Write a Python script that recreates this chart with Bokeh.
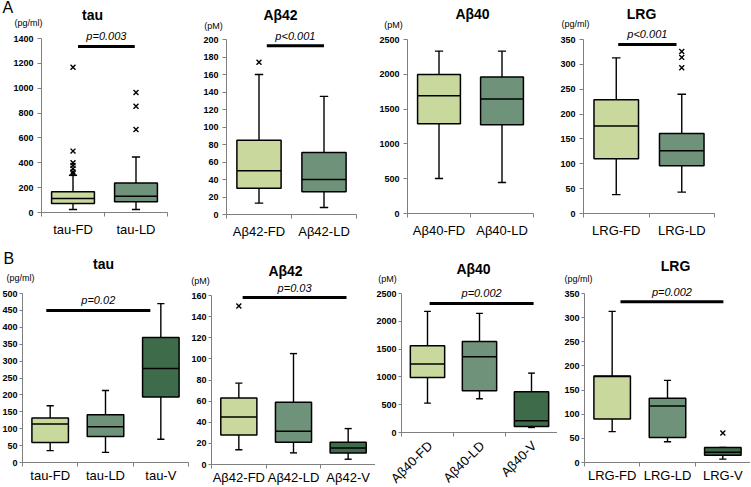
import numpy as np
from math import pi
from bokeh.plotting import figure
from bokeh.models import ColumnDataSource, Range1d, FixedTicker, Label
from bokeh.layouts import row, column
from bokeh.embed import file_html
from bokeh.resources import INLINE

FONT = "Liberation Sans"
COLORS = ["#c9d89d", "#6f937a", "#3e6c4a"]
AXIS_COL = "#7f7f7f"

# ---------------- data: panel A (FD vs LD) ----------------
tauA_cats = ["tau-FD", "tau-LD"]
tauA_low = [24, 24]
tauA_q1 = [72, 86]
tauA_med = [112, 131]
tauA_q3 = [166, 238]
tauA_high = [300, 446]
tauA_out_grp = [0, 0, 0, 0, 0, 0, 0, 1, 1, 1]
tauA_out_val = [1168, 494, 401, 379, 352, 326, 313, 965, 855, 668]
tauA_p = "p=0.003"
tauA_bar = [0.08, 0.98, 1336]

ab42A_cats = ["Aβ42-FD", "Aβ42-LD"]
ab42A_low = [13, 8]
ab42A_q1 = [30, 26]
ab42A_med = [50, 40]
ab42A_q3 = [85, 71]
ab42A_high = [160, 135]
ab42A_out_grp = [0]
ab42A_out_val = [174]
ab42A_p = "p<0.001"
ab42A_bar = [0.12, 1.0, 193]

ab40A_cats = ["Aβ40-FD", "Aβ40-LD"]
ab40A_low = [502, 445]
ab40A_q1 = [1291, 1276]
ab40A_med = [1692, 1644]
ab40A_q3 = [1998, 1960]
ab40A_high = [2333, 2333]
ab40A_out_grp = []
ab40A_out_val = []

lrgA_cats = ["LRG-FD", "LRG-LD"]
lrgA_low = [38, 43]
lrgA_q1 = [110, 96]
lrgA_med = [176, 126]
lrgA_q3 = [229, 161]
lrgA_high = [313, 240]
lrgA_out_grp = [1, 1, 1]
lrgA_out_val = [326, 314, 293]
lrgA_p = "p<0.001"
lrgA_bar = [0.03, 0.92, 340]

# ---------------- data: panel B (FD vs LD vs V) ----------------
tauB_cats = ["tau-FD", "tau-LD", "tau-V"]
tauB_low = [35, 30, 69]
tauB_q1 = [59, 77, 194]
tauB_med = [114, 106, 278]
tauB_q3 = [132, 141, 370]
tauB_high = [168, 213, 470]
tauB_out_grp = []
tauB_out_val = []
tauB_p = "p=0.02"
tauB_bar = [-0.07, 1.81, 450]

ab42B_cats = ["Aβ42-FD", "Aβ42-LD", "Aβ42-V"]
ab42B_low = [14, 11, 5]
ab42B_q1 = [28, 21, 11]
ab42B_med = [45, 31.5, 15.7]
ab42B_q3 = [63, 59, 21]
ab42B_high = [77, 105, 34]
ab42B_out_grp = [0]
ab42B_out_val = [150]
ab42B_p = "p=0.03"
ab42B_bar = [0.07, 1.97, 158]

ab40B_cats = ["Aβ40-FD", "Aβ40-LD", "Aβ40-V"]
ab40B_low = [528, 606, 90]
ab40B_q1 = [990, 750, 108]
ab40B_med = [1230, 1362, 210]
ab40B_q3 = [1559, 1638, 732]
ab40B_high = [2178, 2142, 1068]
ab40B_out_grp = []
ab40B_out_val = []
ab40B_p = "p=0.002"
ab40B_bar = [0.04, 2.04, 2322]

lrgB_cats = ["LRG-FD", "LRG-LD", "LRG-V"]
lrgB_low = [64, 43, 7]
lrgB_q1 = [90, 52, 15]
lrgB_med = [178, 117, 21]
lrgB_q3 = [179, 133, 31]
lrgB_high = [313, 170, 31]
lrgB_out_grp = [2]
lrgB_out_val = [61]
lrgB_p = "p=0.002"
lrgB_bar = [0.15, 2.01, 333]


def make_panel(cats, low, q1, med, q3, high, out_grp, out_val, ymax, ystep,
               canvas, frame, title, title_xy, unit, unit_xy,
               pval=None, bar=None, rotate=False, box_w=0.68, cap_w=0.13,
               standoff=5, ytick=4, ystandoff=4, letter=None, letter_xy=None,
               rot_y=443):
    """canvas = (x, y, w, h) on the page; frame = (left, top, right, bottom)
    page position of the axes box."""
    n = len(cats)
    fx, fy, w, h = canvas
    L, T, R, B = frame
    sx = (R - L) / n
    sy = (B - T) / ymax
    x_rng = Range1d(-0.5 - (L - fx) / sx, n - 0.5 + (fx + w - R) / sx)
    y_rng = Range1d(-(fy + h - B) / sy, ymax + (T - fy) / sy)

    p = figure(width=w, height=h, x_range=x_rng, y_range=y_rng,
               output_backend="svg", toolbar_location=None, min_border=0)
    p.xgrid.visible = False
    p.ygrid.visible = False
    p.outline_line_color = None
    p.background_fill_color = "white"
    p.border_fill_color = "white"

    def to_screen(px, py):
        return px - fx, (fy + h) - py

    ya = p.yaxis[0]
    ya.fixed_location = -0.5
    ya.bounds = (0, ymax)
    ya.ticker = FixedTicker(ticks=list(range(0, ymax + 1, ystep)))
    ya.major_label_text_font = FONT
    ya.major_label_text_font_size = "9px"
    ya.major_label_text_font_style = "bold"
    ya.major_label_text_color = "black"
    ya.axis_line_color = AXIS_COL
    ya.major_tick_line_color = AXIS_COL
    ya.major_tick_out = ytick
    ya.major_tick_in = 0
    ya.minor_tick_line_color = None
    ya.major_label_standoff = ystandoff

    xa = p.xaxis[0]
    xa.fixed_location = 0
    xa.bounds = (-0.5, n - 0.5)
    xs = list(range(n))
    xa.ticker = FixedTicker(ticks=[] if rotate else xs,
                            minor_ticks=[i - 0.5 for i in range(n + 1)])
    xa.major_label_overrides = {i: c for i, c in enumerate(cats)}
    xa.major_tick_line_color = None
    xa.major_tick_out = 0
    xa.major_tick_in = 0
    xa.minor_tick_line_color = AXIS_COL
    xa.minor_tick_out = 4
    xa.minor_tick_in = 0
    xa.axis_line_color = AXIS_COL
    xa.major_label_text_font = FONT
    xa.major_label_text_font_size = "13px"
    xa.major_label_text_color = "black"
    xa.major_label_standoff = standoff

    x = np.arange(n, dtype=float)
    src = ColumnDataSource(dict(
        x=x, low=low, q1=q1, med=med, q3=q3, high=high, color=COLORS[:n],
        cl=x - cap_w / 2, cr=x + cap_w / 2, bl=x - box_w / 2, br=x + box_w / 2))
    wk = dict(line_color="black", line_width=1.4)
    p.segment(x0="x", y0="q3", x1="x", y1="high", source=src, **wk)
    p.segment(x0="x", y0="low", x1="x", y1="q1", source=src, **wk)
    p.segment(x0="cl", y0="high", x1="cr", y1="high", source=src, **wk)
    p.segment(x0="cl", y0="low", x1="cr", y1="low", source=src, **wk)
    p.vbar(x="x", width=box_w, bottom="q1", top="q3", fill_color="color",
           line_color="black", line_width=1.5, source=src)
    p.segment(x0="bl", y0="med", x1="br", y1="med", source=src,
              line_color="black", line_width=1.5)
    if out_val:
        p.scatter(x=out_grp, y=out_val, marker="x", size=7,
                  line_color="black", line_width=1.4)

    def add_text(text, px, py, size, style="normal", align="center",
                 baseline="middle"):
        sxp, syp = to_screen(px, py)
        p.add_layout(Label(x=sxp, y=syp, x_units="screen", y_units="screen",
                           text=text, text_font=FONT,
                           text_font_size=f"{size}px", text_font_style=style,
                           text_align=align, text_baseline=baseline,
                           text_color="black"))

    if bar is not None:
        x0, x1, yb = bar
        p.segment(x0=[x0], y0=[yb], x1=[x1], y1=[yb], line_color="black",
                  line_width=3)
        bar_page_y = B - yb * sy
        p.add_layout(Label(x=(x0 + x1) / 2, x_units="data",
                           y=(fy + h) - (bar_page_y - 10), y_units="screen",
                           text=pval, text_font=FONT, text_font_size="11px",
                           text_font_style="italic", text_align="center",
                           text_baseline="middle", text_color="black"))

    if rotate:
        _, rys = to_screen(0, rot_y)
        for i, c in enumerate(cats):
            p.add_layout(Label(x=i + 0.05, x_units="data", y=rys,
                               y_units="screen", angle=pi / 4, text=c,
                               text_font=FONT, text_font_size="13px",
                               text_align="right", text_baseline="middle",
                               text_color="black"))

    add_text(title, title_xy[0], title_xy[1], 14, style="bold")
    add_text(unit, unit_xy[0], unit_xy[1], 9)
    if letter:
        add_text(letter, letter_xy[0], letter_xy[1], 16, align="left",
                 baseline="middle")
    return p


a1 = make_panel(tauA_cats, tauA_low, tauA_q1, tauA_med, tauA_q3, tauA_high,
                tauA_out_grp, tauA_out_val, 1400, 200,
                (0, 0, 190, 240), (41, 38, 167, 212),
                "tau", (92, 14), "(pg/ml)", (28, 22), tauA_p, tauA_bar,
                letter="A", letter_xy=(2, 7))
a2 = make_panel(ab42A_cats, ab42A_low, ab42A_q1, ab42A_med, ab42A_q3, ab42A_high,
                ab42A_out_grp, ab42A_out_val, 200, 20,
                (190, 0, 178, 240), (226, 39, 356, 214),
                "Aβ42", (280, 14), "(pM)", (213, 25), ab42A_p, ab42A_bar)
a3 = make_panel(ab40A_cats, ab40A_low, ab40A_q1, ab40A_med, ab40A_q3, ab40A_high,
                ab40A_out_grp, ab40A_out_val, 2500, 500,
                (368, 0, 184, 240), (407, 39, 533, 213),
                "Aβ40", (472, 13), "(pM)", (393, 24))
a4 = make_panel(lrgA_cats, lrgA_low, lrgA_q1, lrgA_med, lrgA_q3, lrgA_high,
                lrgA_out_grp, lrgA_out_val, 350, 50,
                (552, 0, 198, 240), (583, 39, 714, 213),
                "LRG", (641, 13), "(pg/ml)", (575, 23), lrgA_p, lrgA_bar)

b1 = make_panel(tauB_cats, tauB_low, tauB_q1, tauB_med, tauB_q3, tauB_high,
                tauB_out_grp, tauB_out_val, 500, 50,
                (0, 240, 189, 246), (22, 293, 188, 462),
                "tau", (103, 263), "(pg/ml)", (20, 277), tauB_p, tauB_bar,
                box_w=0.66, standoff=1, ytick=3, ystandoff=2,
                letter="B", letter_xy=(3, 258))
b2 = make_panel(ab42B_cats, ab42B_low, ab42B_q1, ab42B_med, ab42B_q3, ab42B_high,
                ab42B_out_grp, ab42B_out_val, 160, 20,
                (189, 240, 186, 246), (211, 295, 375, 464),
                "Aβ42", (285, 270), "(pM)", (200, 280), ab42B_p, ab42B_bar,
                box_w=0.66, standoff=1, ytick=3, ystandoff=2)
b3 = make_panel(ab40B_cats, ab40B_low, ab40B_q1, ab40B_med, ab40B_q3, ab40B_high,
                ab40B_out_grp, ab40B_out_val, 2500, 500,
                (375, 240, 182, 246), (401, 293, 557, 432),
                "Aβ40", (473, 268), "(pM)", (387, 278), ab40B_p, ab40B_bar,
                rotate=True, box_w=0.66, ytick=3, ystandoff=2)
b4 = make_panel(lrgB_cats, lrgB_low, lrgB_q1, lrgB_med, lrgB_q3, lrgB_high,
                lrgB_out_grp, lrgB_out_val, 350, 50,
                (557, 240, 193, 246), (584, 293, 750, 462),
                "LRG", (675, 265), "(pg/ml)", (578, 278), lrgB_p, lrgB_bar,
                box_w=0.66, standoff=1, ytick=3, ystandoff=2)

layout = column(row(a1, a2, a3, a4), row(b1, b2, b3, b4))
open("out.html", "w").write(file_html(layout, INLINE))
